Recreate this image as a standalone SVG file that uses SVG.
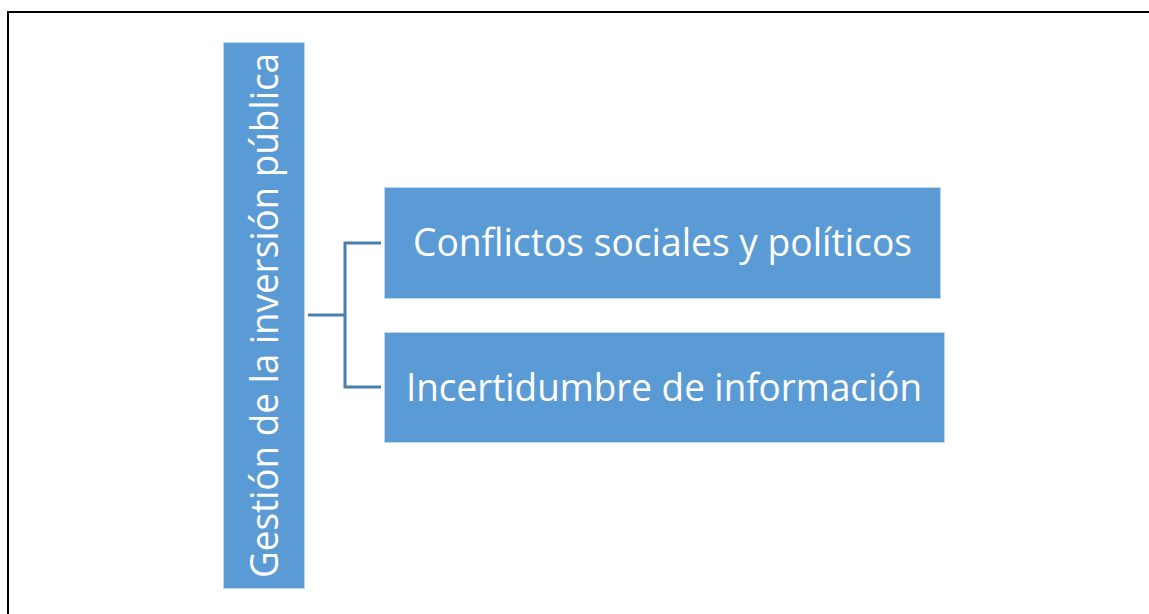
<svg xmlns="http://www.w3.org/2000/svg" width="1149" height="614" viewBox="0 0 1149 614">
<style>
.box{fill:#5B9BD5;stroke:#BDD7EE;stroke-width:1}
.t{font-family:"Open Sans","Liberation Sans",sans-serif;fill:#FFFFFF;font-size:38px}
.c{fill:none;stroke:#4A7DB0;stroke-width:3}
</style>
<rect x="0" y="0" width="1149" height="614" fill="#FFFFFF"/>
<path d="M8,614 V12 H1149" fill="none" stroke="#000000" stroke-width="2"/>
<g id="connectors">
<path class="c" d="M308,315 H345"/>
<path class="c" d="M381,243 H345 V387 H381"/>
</g>
<g id="root">
<rect class="box" x="223.5" y="42.5" width="81" height="546"/>
<text class="t" transform="translate(278,578) rotate(-90)" textLength="525" lengthAdjust="spacingAndGlyphs">Gestión de la inversión pública</text>
</g>
<g id="node1">
<rect class="box" x="384.5" y="187.5" width="556" height="111"/>
<text class="t" x="413" y="256" textLength="499" lengthAdjust="spacingAndGlyphs">Conflictos sociales y políticos</text>
</g>
<g id="node2">
<rect class="box" x="384.5" y="332.5" width="560" height="110"/>
<text class="t" x="406" y="401" textLength="516" lengthAdjust="spacingAndGlyphs">Incertidumbre de información</text>
</g>
</svg>
